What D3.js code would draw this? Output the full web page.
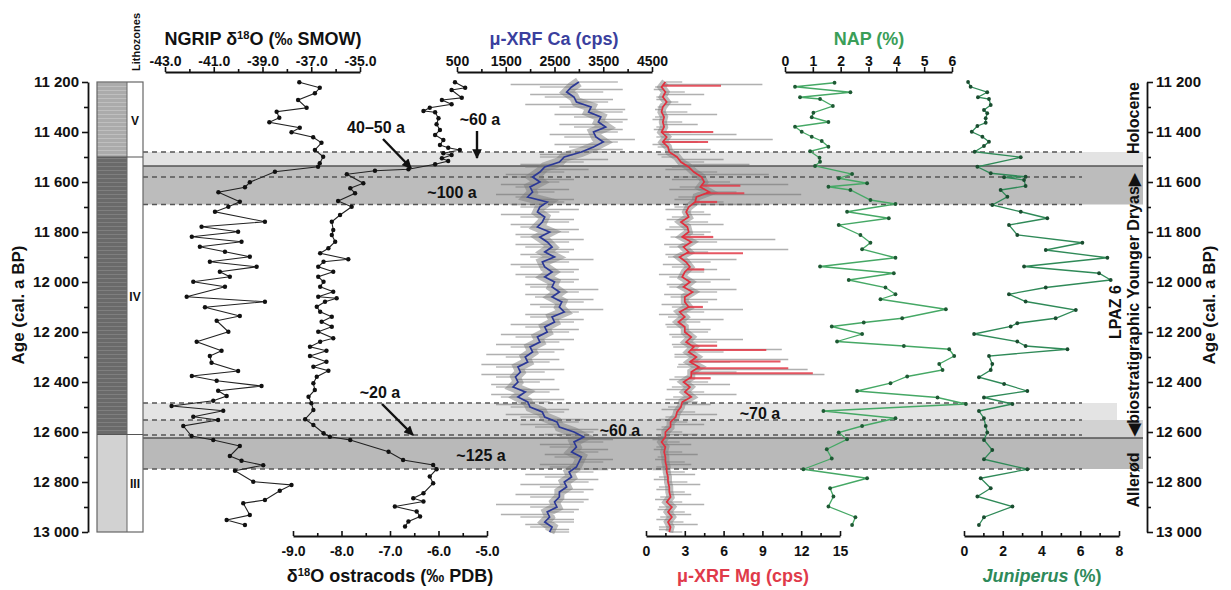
<!DOCTYPE html>
<html><head><meta charset="utf-8">
<script src="https://cdn.jsdelivr.net/npm/d3@7"></script>
<style>
body{margin:0;background:#fff}
text{font-family:"Liberation Sans",Arial,sans-serif;font-weight:bold;fill:#111}
</style>
</head><body>
<svg id="chart" width="1231" height="590"></svg>
<script>
// ---------------- DATA ----------------
const ngripAge = [11201,11223,11245,11272,11303,11319,11343,11361,11383,11401,11421,11443,11472,11499,11525,11539,11559,11601,11621,11641,11679,11699,11719,11759,11779,11799,11819,11839,11859,11879,11899,11919,11939,11959,11979,11999,12019,12059,12079,12101,12136,12155,12199,12239,12275,12296,12323,12356,12376,12395,12416,12435,12456,12475,12496,12515,12539,12552,12576,12616,12632,12656,12696,12715,12733,12755,12799,12812,12835,12872,12885,12932,12952,12972];
const ngripD18O = [-37.49,-36.65,-36.85,-37.54,-37.19,-38.42,-38.31,-38.72,-37.47,-37.81,-36.92,-36.58,-36.85,-36.51,-36.65,-36.72,-38.49,-39.52,-39.72,-40.81,-39.93,-40.40,-40.95,-38.90,-41.50,-40.0,-41.9,-39.86,-41.57,-40.54,-39.52,-41.16,-39.24,-40.75,-40.34,-41.84,-40.54,-42.11,-38.90,-41.36,-39.93,-40.88,-40.40,-41.70,-40.68,-41.16,-41.09,-40.0,-41.9,-40.88,-39.04,-40.82,-40.47,-41.02,-42.73,-40.61,-41.84,-40.82,-42.25,-41.91,-41.02,-39.93,-40.34,-39.86,-38.97,-40.13,-39.38,-37.81,-38.29,-38.90,-39.79,-39.52,-40.47,-39.72];

const ostAge = [11201,11223,11232,11263,11272,11289,11303,11316,11321,11345,11369,11392,11412,11432,11452,11463,11472,11485,11492,11505,11516,11529,11549,11555,11569,11605,11625,11645,11676,11699,11732,11759,11792,11812,11839,11865,11885,11909,11919,11939,11959,11979,11999,12019,12039,12059,12065,12079,12099,12119,12139,12159,12179,12199,12225,12239,12259,12275,12296,12319,12339,12355,12379,12405,12432,12459,12485,12512,12549,12572,12605,12619,12632,12679,12712,12732,12749,12778,12805,12845,12865,12878,12898,12918,12938,12958,12978];
const ostD18O = [-5.66,-5.45,-5.73,-5.52,-5.93,-5.73,-6.18,-6.31,-6.07,-6.00,-6.04,-5.97,-6.07,-5.90,-5.97,-5.80,-5.56,-5.90,-5.73,-5.93,-5.80,-6.07,-6.62,-7.31,-7.89,-7.55,-7.82,-7.72,-8.07,-7.79,-8.03,-8.20,-8.17,-8.20,-8.13,-8.27,-8.44,-7.86,-8.37,-8.48,-8.17,-8.48,-8.37,-8.44,-8.17,-8.48,-8.10,-8.34,-8.51,-8.44,-8.20,-8.41,-8.20,-8.48,-8.17,-8.44,-8.65,-8.31,-8.65,-8.31,-8.58,-8.27,-8.51,-8.58,-8.55,-8.68,-8.62,-8.58,-8.75,-8.58,-8.37,-8.24,-7.82,-7.03,-6.73,-6.11,-6.04,-6.18,-6.11,-6.31,-6.52,-6.31,-6.90,-6.45,-6.38,-6.62,-6.69];

const xrfAge = [11200,11220,11240,11260,11280,11300,11320,11340,11360,11380,11400,11420,11440,11460,11480,11500,11520,11540,11560,11580,11600,11620,11640,11660,11680,11700,11720,11740,11760,11780,11800,11820,11840,11860,11880,11900,11920,11940,11960,11980,12000,12020,12040,12060,12080,12100,12120,12140,12160,12180,12200,12220,12240,12260,12280,12300,12320,12340,12360,12380,12400,12420,12440,12460,12480,12500,12520,12540,12560,12580,12600,12620,12640,12660,12680,12700,12720,12740,12760,12780,12800,12820,12840,12860,12880,12900,12920,12940,12960,12980,13000];
const caSmooth = [3000,2850,2750,2900,2950,3250,3200,3450,3400,3550,3300,3350,3500,3300,3050,2700,2600,2300,2200,2050,2200,2000,2050,1950,2350,2200,2150,2300,2250,2150,2400,2200,2350,2450,2300,2500,2250,2300,2450,2300,2500,2450,2600,2450,2650,2600,2700,2450,2500,2300,2350,2150,2200,2000,2050,1900,1950,1750,1800,1700,1750,1650,1900,1750,1950,2000,2250,2300,2550,2600,2900,3100,2900,2950,2850,3050,3000,2950,2800,2850,2700,2750,2600,2600,2500,2550,2350,2400,2300,2450,2400];
const caRawEven = [3800,2200,3500,2300,3600,2600,3900,2900,3900,2900,3800,2700,3800,2800,3500,2200,3100,1900,2700,1700,2600,1700,2500,1700,2700,1800,2600,1800,2800,1800,2800,1800,2800,1900,2800,2000,2800,1800,2900,1900,2900,2000,3000,2100,3100,2200,3000,2000,2900,1900,2800,1700,2600,1600,2500,1500,2400,1300,2300,1300,2200,1300,2400,1400,2400,1600,2700,1800,3000,2100,3300,2600,3500,2400,3400,2500,3500,2400,3300,2300,3200,2200,3100,2000,3100,2000,2900,1800,2900,2000,2800];
const mgSmooth = [1.5,1.2,1.5,1.3,1.6,1.3,1.2,1.4,1.3,1.4,1.2,1.6,1.3,1.7,1.8,2.4,2.7,3.3,3.7,4.3,4.5,4.2,4.9,3.9,3.8,3.3,3.1,3.3,2.7,3.2,3.3,2.8,3.5,2.9,3.3,2.6,3.1,3.4,3.0,2.8,3.4,2.9,3.6,3.0,3.0,3.3,2.6,3.0,2.5,3.0,3.0,3.5,3.1,3.7,3.3,3.9,3.4,4.1,3.5,3.5,2.9,3.4,3.0,3.5,2.8,2.7,2.4,2.3,1.9,1.9,1.5,1.5,1.2,1.5,1.4,1.5,1.5,1.6,1.6,1.7,1.7,1.8,1.8,1.9,1.6,2.0,1.7,2.0,1.7,1.9,1.8];
const mgRawEven = [2.8,0.7,3.0,0.8,2.5,0.9,3.2,0.7,2.8,0.8,3.5,0.8,4.0,0.9,3.5,1.2,4.5,2.0,5.5,2.5,6.5,2.6,7.0,2.5,6.0,2.2,4.5,2.0,4.8,1.8,5.0,1.9,5.5,1.8,4.8,1.7,5.0,2.0,4.5,1.8,5.0,1.8,5.5,1.9,4.8,2.0,4.5,1.7,4.2,1.6,4.8,2.0,5.5,2.1,6.0,2.2,6.5,2.4,7.0,2.2,4.8,2.0,4.5,2.1,4.0,1.7,3.8,1.5,3.2,1.2,2.8,0.9,2.6,0.8,2.8,0.9,3.0,0.8,3.0,1.0,3.2,1.0,3.0,1.1,2.8,1.0,3.0,1.1,2.9,1.0,2.8];

const rawAge = [11210,11230,11250,11270,11290,11310,11330,11350,11370,11390,11410,11430,11450,11470,11490,11510,11530,11550,11570,11590,11610,11630,11650,11670,11690,11710,11730,11750,11770,11790,11810,11830,11850,11870,11890,11910,11930,11950,11970,11990,12010,12030,12050,12070,12090,12110,12130,12150,12170,12190,12210,12230,12250,12270,12290,12310,12330,12350,12370,12390,12410,12430,12450,12470,12490,12510,12530,12550,12570,12590,12610,12630,12650,12670,12690,12710,12730,12750,12770,12790,12810,12830,12850,12870,12890,12910,12930,12950,12970,12990];
const caRaw = [1600,3900,2000,3700,1900,3950,2500,4000,2600,3900,2400,4150,2500,3900,2200,3600,1800,3200,1500,2900,1400,2800,1300,2900,1600,3000,1400,2900,1600,3000,1700,3100,1700,2900,1800,3300,1600,3000,1700,3000,1900,3400,1900,3300,2000,3500,1900,3100,1600,3000,1400,2900,1300,2700,1100,2600,1000,2700,1000,2500,1200,2600,1200,2700,1300,2800,1500,3100,1800,3400,2300,3700,2200,3600,2300,3700,2200,3600,1900,3400,1800,3300,1700,3200,1300,3000,1400,2900,1900,2800];
const mgRaw = [9.0,0.6,4.5,0.8,3.5,0.7,5.5,0.5,4.0,0.6,7.0,9.8,0.5,5.0,0.9,6.0,8.0,1.5,9.5,2.0,11.0,1.8,12.0,2.2,9.0,1.5,5.0,1.6,6.0,1.5,4.5,10.0,1.4,11.0,1.5,7.0,1.3,5.5,1.0,6.5,1.6,7.0,1.4,5.5,1.2,7.5,1.0,6.0,1.5,5.0,1.8,7.5,2.0,10.5,2.2,11.0,2.5,12.5,13.8,1.8,6.5,1.6,7.0,1.5,5.0,1.2,5.5,1.0,4.5,0.8,4.0,0.5,3.5,0.6,4.0,0.7,3.5,0.5,3.8,0.6,4.2,0.8,3.5,0.7,4.5,0.9,3.5,0.8,4.0,1.0];
const mgRedAge = [11215,11400,11440,11615,11645,11680,11820,11885,11950,12100,12255,12272,12318,12345,12365,12385];
const mgRedValue = [5.8,5.2,4.8,7.3,7.6,5.5,5.2,7.5,4.5,4.4,5.5,9.3,10.4,11.0,12.9,5.0];

const napAge = [11203,11219,11241,11261,11268,11296,11323,11341,11360,11379,11399,11419,11436,11459,11477,11503,11519,11536,11568,11585,11605,11619,11632,11672,11688,11719,11745,11772,11812,11843,11869,11903,11938,11965,11992,12022,12049,12069,12109,12145,12162,12178,12208,12238,12256,12269,12296,12328,12352,12378,12405,12436,12462,12488,12516,12545,12576,12602,12629,12669,12706,12749,12785,12825,12858,12898,12941,12972];
const napValue = [1.78,0.36,2.35,0.54,1.26,1.72,1.02,0.96,1.56,0.36,0.60,0.96,1.32,1.56,0.90,1.24,1.26,1.08,2.41,1.93,2.95,1.56,2.35,3.07,3.97,2.23,3.73,1.93,2.71,3.07,2.77,3.97,1.26,3.91,2.29,3.61,3.97,3.43,5.78,4.21,2.83,1.68,2.77,1.87,4.27,5.90,6.08,5.54,5.66,4.39,3.79,2.59,5.48,6.50,1.38,3.97,2.77,1.93,2.23,1.50,1.68,0.66,2.95,1.62,1.74,1.56,2.53,2.41];

const junAge = [11200,11219,11241,11261,11268,11292,11312,11325,11345,11363,11376,11399,11419,11439,11456,11479,11501,11539,11565,11579,11581,11592,11616,11632,11659,11692,11719,11745,11772,11812,11843,11872,11903,11938,11965,11992,12022,12049,12078,12112,12145,12165,12178,12208,12238,12256,12269,12296,12328,12352,12381,12408,12436,12462,12488,12516,12545,12576,12602,12632,12672,12709,12749,12785,12825,12858,12898,12941,12972];
const junValue = [0.21,0.34,1.20,0.72,1.29,1.38,1.03,1.20,1.12,1.12,0.69,0.40,0.95,1.29,1.03,0.55,2.93,0.69,1.38,3.18,2.07,3.10,3.18,1.89,2.24,1.46,2.93,4.30,2.32,2.75,6.11,4.22,7.40,3.10,6.97,7.57,4.22,2.32,3.18,5.77,4.73,2.75,2.41,0.52,2.75,3.18,5.34,1.29,1.46,1.38,0.77,2.07,3.27,1.03,2.50,0.77,1.03,1.12,1.20,1.03,1.46,1.03,3.27,0.86,1.38,0.69,2.50,1.03,0.77];

// lithozones
const lithoTop = [11200, 11500, 12610];
const lithoBottom = [11500, 12610, 13000];
const lithoName = ["V", "IV", "III"];
// shaded transitions
const bandTop = [11480, 11536, 12484, 12552, 12624];
const bandBottom = [11536, 11690, 12552, 12624, 12748];
const bandShade = ["#e3e3e3", "#bcbcbc", "#e4e4e4", "#d2d2d2", "#b9b9b9"];
const bandRight = [1143, 1143, 1117, 1143, 1143];
const dashedAges = [11480, 11580, 11690, 12484, 12552, 12612, 12748];
const solidAges = [11536, 12624];

// tick values
const ageTicks = [11200,11300,11400,11500,11600,11700,11800,11900,12000,12100,12200,12300,12400,12500,12600,12700,12800,12900,13000];
const ngripTicks = [-43,-42,-41,-40,-39,-38,-37,-36,-35];
const caTicks = [500,1000,1500,2000,2500,3000,3500,4000,4500];
const napTicks = [0,1,2,3,4,5,6];
const ostTicks = [-9,-8.5,-8,-7.5,-7,-6.5,-6,-5.5,-5];
const mgTicks = [0,1.5,3,4.5,6,7.5,9,10.5,12,13.5,15];
const junTicks = [0,1,2,3,4,5,6,7,8];

// ---------------- CHART ----------------
const svg = d3.select("#chart");
const y = d3.scaleLinear().domain([11200, 13000]).range([82, 532]);
const xNgrip = d3.scaleLinear().domain([-43, -35]).range([165, 360]);
const xOst = d3.scaleLinear().domain([-9, -5]).range([293, 487]);
const xCa = d3.scaleLinear().domain([500, 4500]).range([457, 652]);
const xMg = d3.scaleLinear().domain([0, 15]).range([646, 840]);
const xNap = d3.scaleLinear().domain([0, 6]).range([785, 952]);
const xJun = d3.scaleLinear().domain([0, 8]).range([964, 1119]);

const bandX0 = 143, dashX1 = 1082;
const defs = svg.append("defs");
defs.append("filter").attr("id", "soft").append("feGaussianBlur").attr("stdDeviation", 0.7);

// bands
const gB = svg.append("g");
bandTop.forEach((t, i) => {
  gB.append("rect").attr("x", bandX0).attr("width", bandRight[i] - bandX0)
    .attr("y", y(t)).attr("height", y(bandBottom[i]) - y(t)).attr("fill", bandShade[i]);
});
dashedAges.forEach(a => {
  gB.append("line").attr("x1", bandX0).attr("x2", dashX1).attr("y1", y(a)).attr("y2", y(a))
    .attr("stroke", "#555").attr("stroke-width", 1.3).attr("stroke-dasharray", "5,4");
});
solidAges.forEach(a => {
  gB.append("line").attr("x1", bandX0).attr("x2", 1143).attr("y1", y(a)).attr("y2", y(a))
    .attr("stroke", "#555").attr("stroke-width", 1.6);
});

// lithozone column
function hatch(id, bg, fg) {
  const p = defs.append("pattern").attr("id", id).attr("patternUnits", "userSpaceOnUse")
    .attr("width", 6).attr("height", 4);
  p.append("rect").attr("width", 6).attr("height", 4).attr("fill", bg);
  p.append("line").attr("x1", 0).attr("x2", 6).attr("y1", 2.5).attr("y2", 2.5)
    .attr("stroke", fg).attr("stroke-width", 0.8);
}
hatch("hV", "#ababab", "#c4c4c4");
hatch("hIV", "#6a6a6a", "#848484");
const lithoFill = ["url(#hV)", "url(#hIV)", "#d2d2d2"];
const gL = svg.append("g");
lithoTop.forEach((t, i) => {
  gL.append("rect").attr("x", 97).attr("width", 30).attr("y", y(t))
    .attr("height", y(lithoBottom[i]) - y(t)).attr("fill", lithoFill[i]);
  gL.append("text").attr("x", 135).attr("y", (y(t) + y(lithoBottom[i])) / 2 + 5)
    .attr("text-anchor", "middle").attr("font-size", 12).attr("font-weight", "normal").text(lithoName[i]);
});
gL.append("rect").attr("x", 97).attr("y", y(11200)).attr("width", 46).attr("height", y(13000) - y(11200))
  .attr("fill", "none").attr("stroke", "#666").attr("stroke-width", 1.2);
gL.append("line").attr("x1", 127).attr("x2", 127).attr("y1", y(11200)).attr("y2", y(13000)).attr("stroke", "#666");
lithoTop.slice(1).forEach(t => {
  gL.append("line").attr("x1", 97).attr("x2", 143).attr("y1", y(t)).attr("y2", y(t)).attr("stroke", "#555").attr("stroke-width", 1.2);
});
gL.append("text").attr("transform", "translate(140,42) rotate(-90)").attr("text-anchor", "middle")
  .attr("font-size", 11).attr("font-weight", "normal").text("Lithozones");

// XRF traces
function xrf(scale, smooth, rawOdd, rawEven, halo) {
  const g = svg.append("g");
  const base = d3.scaleLinear().domain(xrfAge).range(smooth);
  const gs = g.append("g").attr("filter", "url(#soft)");
  rawAge.forEach((a, i) => {
    gs.append("line").attr("x1", scale(base(a))).attr("x2", scale(rawOdd[i]))
      .attr("y1", y(a)).attr("y2", y(a)).attr("stroke", "#6f6f6f").attr("stroke-opacity", 0.55).attr("stroke-width", 1.5);
  });
  xrfAge.forEach((a, i) => {
    gs.append("line").attr("x1", scale(smooth[i])).attr("x2", scale(rawEven[i]))
      .attr("y1", y(a)).attr("y2", y(a)).attr("stroke", "#7a7a7a").attr("stroke-opacity", 0.5).attr("stroke-width", 1.5);
  });
  const line = d3.line().x((d, i) => scale(smooth[i])).y((d) => y(d));
  gs.append("path").attr("d", line(xrfAge)).attr("fill", "none").attr("stroke", "#7c7c7c")
    .attr("stroke-opacity", 0.5).attr("stroke-width", halo);
  return {g, line, base};
}
const ca = xrf(xCa, caSmooth, caRaw, caRawEven, 10);
ca.g.append("path").attr("d", ca.line(xrfAge)).attr("fill", "none").attr("stroke", "#2b3896").attr("stroke-width", 1.7);
const mg = xrf(xMg, mgSmooth, mgRaw, mgRawEven, 8);
mgRedAge.forEach((a, i) => {
  mg.g.append("line").attr("x1", xMg(mg.base(a))).attr("x2", xMg(mgRedValue[i]))
    .attr("y1", y(a)).attr("y2", y(a)).attr("stroke", "#e23a48").attr("stroke-width", 2.2).attr("stroke-opacity", 0.85);
});
mg.g.append("path").attr("d", mg.line(xrfAge)).attr("fill", "none").attr("stroke", "#e0303e").attr("stroke-width", 1.7);

// point series
function dotted(ages, vals, scale, color, dotColor, lw, r) {
  const g = svg.append("g");
  const n = Math.min(ages.length, vals.length);
  const pts = d3.range(n).map(i => [scale(vals[i]), y(ages[i])]);
  g.append("path").attr("d", d3.line()(pts)).attr("fill", "none").attr("stroke", color).attr("stroke-width", lw);
  g.selectAll("circle").data(pts).join("circle").attr("cx", d => d[0]).attr("cy", d => d[1])
    .attr("r", r).attr("fill", dotColor);
}
dotted(ngripAge, ngripD18O, xNgrip, "#222", "#111", 1.1, 2.2);
dotted(ostAge, ostD18O, xOst, "#222", "#111", 1.1, 2.2);
dotted(napAge, napValue, xNap, "#45a865", "#1e5a34", 1.3, 1.9);
dotted(junAge, junValue, xJun, "#2f8a58", "#1a4d30", 1.3, 1.9);

// axes
function styleAxis(g, size) {
  g.select(".domain").attr("stroke", "#111").attr("stroke-width", 1.8);
  g.selectAll(".tick line").attr("stroke", "#111").attr("stroke-width", 1.6);
  g.selectAll(".tick text").attr("font-size", size).attr("fill", "#111");
}
const ageFmt = d => d % 200 === 0 ? String(d).slice(0, 2) + " " + String(d).slice(2) : "";
const gLeft = svg.append("g").attr("transform", "translate(88,0)")
  .call(d3.axisLeft(y).tickValues(ageTicks).tickFormat(ageFmt).tickSizeOuter(0).tickSizeInner(6).tickPadding(3));
styleAxis(gLeft, 15);
gLeft.selectAll(".tick").filter(d => d % 200 !== 0).select("line").attr("x2", -4);
const gRight = svg.append("g").attr("transform", "translate(1147,0)")
  .call(d3.axisRight(y).tickValues(ageTicks).tickFormat(ageFmt).tickSizeOuter(0).tickSizeInner(6).tickPadding(3));
styleAxis(gRight, 15);
gRight.selectAll(".tick").filter(d => d % 200 !== 0).select("line").attr("x2", 4);

function topAxis(scale, ticks, isMajor, fmt) {
  const g = svg.append("g").attr("transform", "translate(0,72)")
    .call(d3.axisTop(scale).tickValues(ticks).tickFormat(d => isMajor(d) ? fmt(d) : "").tickSizeOuter(0).tickSizeInner(5).tickPadding(1));
  styleAxis(g, 14);
  g.selectAll(".tick").filter(d => !isMajor(d)).select("line").attr("y2", -3);
  return g;
}
function bottomAxis(scale, ticks, isMajor, fmt) {
  const g = svg.append("g").attr("transform", "translate(0,536)")
    .call(d3.axisBottom(scale).tickValues(ticks).tickFormat(d => isMajor(d) ? fmt(d) : "").tickSizeOuter(0).tickSizeInner(-5).tickPadding(10));
  styleAxis(g, 14);
  g.selectAll(".tick").filter(d => !isMajor(d)).select("line").attr("y2", -3);
  return g;
}
topAxis(xNgrip, ngripTicks, d => Math.abs(d) % 2 === 1, d => d.toFixed(1));
topAxis(xCa, caTicks, d => d % 1000 === 500, d => String(d));
topAxis(xNap, napTicks, d => true, d => String(d));
bottomAxis(xOst, ostTicks, d => Number.isInteger(d), d => d.toFixed(1));
bottomAxis(xMg, mgTicks, d => d % 3 === 0, d => String(d));
bottomAxis(xJun, junTicks, d => d % 2 === 0, d => String(d));

// titles
function title(x, yy, parts, color, size) {
  const t = svg.append("text").attr("x", x).attr("y", yy).attr("text-anchor", "middle")
    .attr("font-size", size).style("fill", color);
  parts.forEach(p => {
    if (p.sup) t.append("tspan").attr("baseline-shift", "super").attr("font-size", size * 0.62).style("fill", color).text(p.t);
    else t.append("tspan").attr("font-style", p.it ? "italic" : null).style("fill", color).text(p.t);
  });
  return t;
}
title(263, 45, [{t: "NGRIP δ"}, {t: "18", sup: true}, {t: "O (‰ SMOW)"}], "#111", 18);
title(554, 45, [{t: "μ-XRF Ca (cps)"}], "#3a3f9e", 18);
title(869, 45, [{t: "NAP (%)"}], "#3a9e58", 18);
title(390, 582, [{t: "δ"}, {t: "18", sup: true}, {t: "O ostracods (‰ PDB)"}], "#111", 18);
title(743, 582, [{t: "μ-XRF Mg (cps)"}], "#e03a4a", 18);
title(1042, 582, [{t: "Juniperus", it: true}, {t: " (%)"}], "#2e8a5a", 18);

function vtext(x, yy, txt, size, color) {
  return svg.append("text").attr("transform", `translate(${x},${yy}) rotate(-90)`)
    .attr("text-anchor", "middle").attr("font-size", size).style("fill", color || "#111").text(txt);
}
vtext(24, 305, "Age (cal. a BP)", 17);
vtext(1215, 305, "Age (cal. a BP)", 17);
vtext(1139, 118, "Holocene", 16);
vtext(1139, 305, "◀biostratigraphic Younger Dryas▶", 16);
vtext(1121, 312, "LPAZ 6", 16);
vtext(1139, 480, "Allerød", 16);

// annotations
defs.append("marker").attr("id", "ah").attr("viewBox", "0 0 10 10").attr("refX", 9).attr("refY", 5)
  .attr("markerWidth", 4).attr("markerHeight", 4).attr("orient", "auto")
  .append("path").attr("d", "M0,0 L10,5 L0,10 z").attr("fill", "#111");
function note(x, yy, txt) {
  svg.append("text").attr("x", x).attr("y", yy).attr("text-anchor", "middle").attr("font-size", 16).text(txt);
}
function arrow(x1, y1, x2, y2) {
  svg.append("line").attr("x1", x1).attr("y1", y1).attr("x2", x2).attr("y2", y2)
    .attr("stroke", "#111").attr("stroke-width", 2.4).attr("marker-end", "url(#ah)");
}
note(376, 133, "40–50 a"); arrow(383, 139, 411, 168);
note(480, 125, "~60 a"); arrow(477, 131, 477, 158);
note(452, 198, "~100 a");
note(380, 398, "~20 a"); arrow(382, 404, 413, 435);
note(481, 461, "~125 a");
note(620, 436, "~60 a");
note(760, 419, "~70 a");
</script>
</body></html>
